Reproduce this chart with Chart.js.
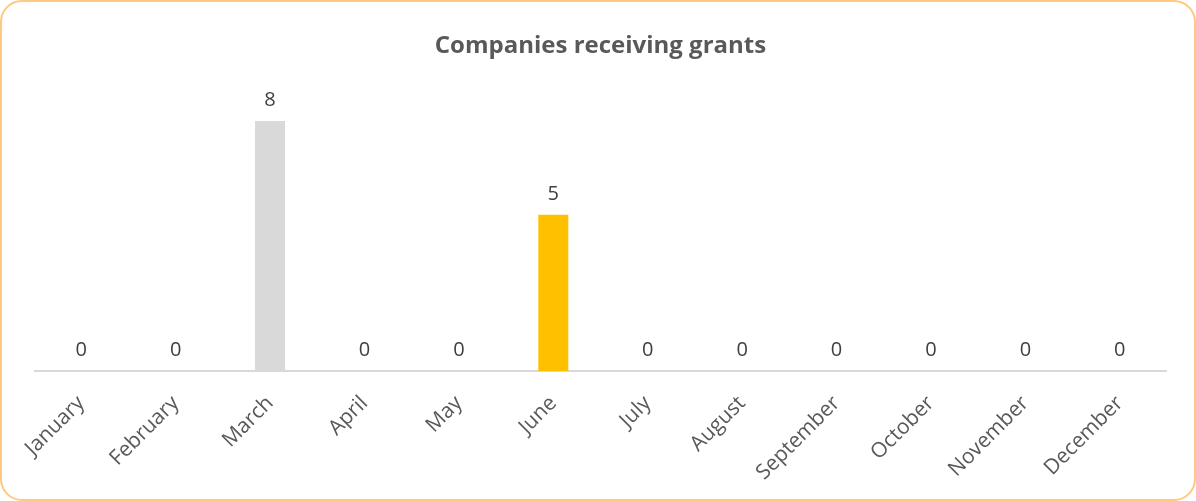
<!DOCTYPE html>
<html>
<head>
<meta charset="utf-8">
<script src="https://cdn.jsdelivr.net/npm/chart.js@4"></script>
<style>
  html, body { margin: 0; padding: 0; background: #fff; }
  #wrap {
    position: relative;
    width: 1192px; height: 497px;
    border: 2px solid #FFC97F;
    border-radius: 22px;
    background: #fff;
  }
  canvas { display: block; }
</style>
</head>
<body>
<div id="wrap"><canvas id="barChart" width="1192" height="497"></canvas></div>
<script>
const months = ['January', 'February', 'March', 'April', 'May', 'June', 'July',
    'August', 'September', 'October', 'November', 'December'];
const grants = [0, 0, 8, 0, 0, 5, 0, 0, 0, 0, 0, 0];
const barColors = ['#D9D9D9', '#D9D9D9', '#D9D9D9', '#D9D9D9', '#D9D9D9', '#FFC000',
    '#D9D9D9', '#D9D9D9', '#D9D9D9', '#D9D9D9', '#D9D9D9', '#D9D9D9'];

// value labels above each bar
const valueLabels = {
    id: 'valueLabels',
    afterDatasetsDraw(chart) {
        const ctx = chart.ctx;
        const meta = chart.getDatasetMeta(0);
        ctx.save();
        ctx.font = '20px "Open Sans"';
        ctx.fillStyle = '#404040';
        ctx.textAlign = 'center';
        ctx.textBaseline = 'alphabetic';
        meta.data.forEach((bar, i) => {
            ctx.fillText(String(grants[i]), bar.x, bar.y - 15);
        });
        ctx.restore();
    }
};

// baseline under the bars
const baseLine = {
    id: 'baseLine',
    beforeDatasetsDraw(chart) {
        const { ctx, chartArea } = chart;
        const y = chart.scales.y.getPixelForValue(0);
        ctx.save();
        ctx.strokeStyle = '#D9D9D9';
        ctx.lineWidth = 2;
        ctx.beginPath();
        ctx.moveTo(chartArea.left, y);
        ctx.lineTo(chartArea.right, y);
        ctx.stroke();
        ctx.restore();
    }
};

const ctx = document.getElementById('barChart').getContext('2d');
new Chart(ctx, {
    type: 'bar',
    data: {
        labels: months,
        datasets: [{
            label: 'Companies receiving grants',
            data: grants,
            backgroundColor: barColors,
            borderWidth: 0,
            barPercentage: 0.318,
            categoryPercentage: 1,
        }],
    },
    options: {
        responsive: false,
        animation: false,
        devicePixelRatio: 1,
        layout: { padding: { left: 32, right: 27, top: 0, bottom: 0 } },
        plugins: {
            legend: { display: false },
            tooltip: { enabled: false },
            title: {
                display: true,
                text: 'Companies receiving grants',
                color: '#595959',
                font: { family: '"Open Sans"', size: 24, weight: 'bold' },
                padding: { top: 30, bottom: 29 },
            },
        },
        scales: {
            y: {
                display: false,
                min: 0,
                max: 9,
            },
            x: {
                grid: { display: false, drawTicks: false },
                border: { display: false },
                afterFit(scale) { scale.height = 128; },
                ticks: {
                    color: '#595959',
                    font: { family: '"Open Sans"', size: 21 },
                    autoSkip: false,
                    minRotation: 45,
                    maxRotation: 45,
                    padding: 20,
                },
            },
        },
    },
    plugins: [valueLabels, baseLine],
});
</script>
</body>
</html>
